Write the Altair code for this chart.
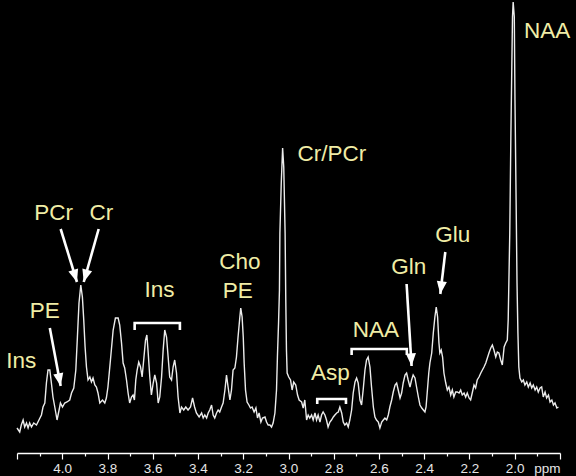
import altair as alt
import pandas as pd

# ---- spectrum (chemical shift in ppm, intensity in arbitrary units) ----
ppm = [
    4.200, 4.188, 4.181, 4.173, 4.166, 4.158, 4.151, 4.144, 4.136, 4.126,
    4.114, 4.103, 4.092, 4.085, 4.077, 4.070, 4.063, 4.055, 4.048, 4.041,
    4.033, 4.023, 4.014, 4.008, 3.999, 3.989, 3.979, 3.967, 3.959, 3.949,
    3.940, 3.933, 3.926, 3.918, 3.911, 3.905, 3.899, 3.893, 3.886, 3.878,
    3.871, 3.864, 3.856, 3.849, 3.842,
    3.834, 3.822, 3.812, 3.805, 3.798, 3.787, 3.775, 3.765, 3.753, 3.746,
    3.738, 3.731, 3.724, 3.716, 3.709, 3.702, 3.694, 3.687, 3.681, 3.675,
    3.669, 3.662, 3.654, 3.647, 3.640, 3.632, 3.626, 3.621, 3.613, 3.606,
    3.598, 3.591, 3.583, 3.576, 3.569, 3.561, 3.554, 3.547, 3.539, 3.532,
    3.525, 3.517, 3.510, 3.503, 3.495, 3.488, 3.480, 3.473, 3.463, 3.454,
    3.444, 3.433, 3.424, 3.415, 3.407, 3.395,
    3.384, 3.377, 3.370, 3.362, 3.355, 3.348, 3.340, 3.333, 3.326, 3.318,
    3.311, 3.304, 3.296, 3.289, 3.281, 3.274, 3.267, 3.259, 3.252, 3.245,
    3.237, 3.230, 3.223, 3.215, 3.211, 3.205, 3.200, 3.196, 3.190, 3.183,
    3.175, 3.168, 3.161, 3.152, 3.144, 3.137, 3.130, 3.122, 3.115, 3.104,
    3.097, 3.090, 3.082, 3.075, 3.068, 3.060, 3.053, 3.049, 3.044, 3.040,
    3.038, 3.032, 3.026, 3.021, 3.015, 3.012, 3.009, 3.006, 2.999, 2.991,
    2.984, 2.977, 2.968, 2.960, 2.953,
    2.942, 2.935, 2.928, 2.920, 2.913, 2.906, 2.898, 2.891, 2.883, 2.876,
    2.869, 2.861, 2.854, 2.847, 2.839, 2.832, 2.825, 2.817, 2.810, 2.802,
    2.795, 2.787, 2.780, 2.773, 2.765, 2.758, 2.751, 2.743, 2.736, 2.729,
    2.721, 2.714, 2.706, 2.699, 2.692, 2.684, 2.677, 2.670, 2.662, 2.655,
    2.648, 2.640, 2.633, 2.625, 2.618, 2.611, 2.603, 2.596, 2.588, 2.581,
    2.574, 2.566, 2.559, 2.552, 2.544, 2.537, 2.529, 2.522, 2.515, 2.507,
    2.500, 2.493, 2.485, 2.478, 2.471, 2.463, 2.456, 2.449, 2.441, 2.434,
    2.426, 2.419, 2.411, 2.404, 2.397, 2.392, 2.387, 2.380, 2.375, 2.367,
    2.360, 2.353, 2.347, 2.341, 2.335, 2.331, 2.325, 2.319, 2.313, 2.305,
    2.298, 2.291, 2.283, 2.276, 2.269, 2.261, 2.254, 2.246, 2.239, 2.232,
    2.224, 2.217, 2.210, 2.202, 2.195, 2.188, 2.180, 2.173, 2.166, 2.158,
    2.150, 2.143, 2.136, 2.128, 2.121, 2.114, 2.106, 2.099, 2.092, 2.084,
    2.077, 2.070, 2.062, 2.055, 2.047, 2.040, 2.033, 2.029, 2.025, 2.022,
    2.017, 2.013, 2.010, 2.007, 2.002, 1.999, 1.994, 1.990, 1.986, 1.982,
    1.977, 1.969, 1.962, 1.955, 1.947, 1.940, 1.932, 1.925, 1.918, 1.910,
    1.903, 1.896, 1.888, 1.881, 1.874, 1.866, 1.859, 1.851, 1.844, 1.836,
    1.829, 1.822, 1.814, 1.807,
]
intensity = [
    25, 21, 28, 33, 26, 30, 25, 30, 26, 30,
    28, 33, 38, 46, 50, 70, 83, 83, 70, 56,
    46, 33, 43, 50, 46, 50, 51, 53, 60, 65,
    83, 116, 150, 168, 156, 133, 106, 86, 73, 76,
    71, 75, 68, 66, 60,
    50, 53, 50, 55, 66, 93, 123, 135, 135, 128,
    110, 90, 85, 73, 60, 50, 56, 58, 53, 73,
    83, 91, 86, 76, 93, 113, 118, 103, 76, 58,
    70, 78, 70, 50, 56, 76, 103, 123, 116, 96,
    76, 73, 86, 93, 80, 56, 40, 46, 43, 46,
    43, 46, 55, 46, 40, 36,
    40, 35, 38, 35, 40, 43, 48, 38, 35, 40,
    43, 41, 46, 50, 63, 78, 66, 53, 63, 83,
    85, 96, 116, 136, 145, 136, 116, 90, 63, 51,
    48, 45, 46, 41, 45, 35, 40, 31, 35, 36,
    31, 28, 28, 26, 30, 40, 63, 96, 130, 163,
    220, 270, 305, 286, 220, 153, 103, 80, 76, 73,
    63, 71, 68, 58, 53,
    51, 45, 53, 33, 38, 35, 38, 33, 40, 33,
    38, 31, 38, 41, 38, 33, 26, 31, 33, 36,
    38, 40, 41, 46, 40, 31, 28, 30, 26, 33,
    43, 60, 71, 75, 70, 53, 48, 63, 83, 93,
    96, 86, 66, 46, 36, 33, 31, 25, 31, 33,
    35, 33, 38, 46, 53, 61, 68, 70, 63, 55,
    60, 70, 78, 80, 73, 66, 73, 78, 75, 66,
    56, 48, 45, 43, 41, 46, 60, 80, 90, 100,
    120, 136, 146, 136, 110, 100, 103, 96, 80, 70,
    63, 66, 58, 63, 56, 61, 61, 60, 63, 58,
    60, 56, 60, 55, 53, 60, 68, 65, 73, 76,
    80, 83, 86, 90, 95, 100, 105, 108, 103, 96,
    101, 100, 93, 88, 106, 110, 113, 133, 183, 220,
    320, 386, 436, 451, 436, 353, 253, 170, 120, 86,
    75, 71, 73, 68, 71, 66, 70, 65, 68, 63,
    66, 61, 65, 66, 56, 61, 55, 58, 51, 53,
    48, 50, 45, 46,
]

# ---- axis ticks ----
tick_values = [round(4.2 - 0.1 * i, 1) for i in range(25)]

# ---- text labels ----
txt_labels = ["NAA", "Cr/PCr", "Cho", "PE", "Asp", "NAA", "Gln", "Glu",
              "PCr", "Cr", "PE", "Ins", "Ins"]
txt_ppm = [1.857, 2.808, 3.215, 3.224, 2.815, 2.614, 2.468, 2.274,
           4.038, 3.827, 4.077, 4.181, 3.570]
txt_int = [415, 292, 184, 155, 73, 116, 179, 211, 233, 233, 135, 85, 156]

# ---- brackets ----
br_names = ["Ins", "Asp", "NAA"]
br_left = [3.680, 2.873, 2.721]
br_right = [3.480, 2.746, 2.477]
br_top = [130, 54, 104]
br_bottom = [123, 49, 98]

# ---- arrows ----
ar_names = ["PCr", "Cr", "PE", "Gln", "Glu"]
ar_start_ppm = [4.007, 3.839, 4.055, 2.478, 2.307]
ar_start_int = [224, 224, 125, 169, 201]
ar_tip_ppm = [3.935, 3.905, 4.007, 2.456, 2.329]
ar_tip_int = [171, 171, 67, 87, 159]
ar_angle = [163, 196, 169, 177, 187]

spec = pd.DataFrame({"ppm": ppm, "I": intensity, "idx": list(range(len(ppm)))})
texts = pd.DataFrame({"ppm": txt_ppm, "I": txt_int, "label": txt_labels})

br_rows = []
for n, l, r, t, b in zip(br_names, br_left, br_right, br_top, br_bottom):
    br_rows += [
        {"name": n, "seq": 0, "ppm": l, "I": b},
        {"name": n, "seq": 1, "ppm": l, "I": t},
        {"name": n, "seq": 2, "ppm": r, "I": t},
        {"name": n, "seq": 3, "ppm": r, "I": b},
    ]
brackets = pd.DataFrame(br_rows)

ar_rows = []
for n, sp, si, tp, ti in zip(ar_names, ar_start_ppm, ar_start_int, ar_tip_ppm, ar_tip_int):
    ar_rows += [
        {"name": n, "seq": 0, "ppm": sp, "I": si},
        {"name": n, "seq": 1, "ppm": tp, "I": ti},
    ]
arrows = pd.DataFrame(ar_rows)
heads = pd.DataFrame({"name": ar_names, "ppm": ar_tip_ppm, "I": ar_tip_int, "angle": ar_angle})

label_expr = ("datum.value > 4.15 ? '' : (round(datum.value*10) % 2 != 0 ? '' : "
              "(datum.value < 1.85 ? 'ppm' : format(datum.value, '.1f')))")

x_enc = alt.X(
    "ppm:Q",
    scale=alt.Scale(domain=[1.8, 4.2], reverse=True, nice=False, zero=False),
    axis=alt.Axis(
        values=tick_values,
        labelExpr=label_expr,
        title=None,
        grid=False,
        domainColor="white",
        domainWidth=1.5,
        tickColor="white",
        tickWidth=1.2,
        tickSize={"condition": {"test": "round(datum.value*10) % 2 == 0", "value": 6}, "value": 3},
        labelAlign={"condition": {"test": "datum.value < 1.85", "value": "right"}, "value": "center"},
        labelColor="#e6e6e6",
        labelFont="Liberation Sans",
        labelFontSize=13.5,
        labelPadding=2,
        labelOverlap=False,
        labelFlush=False,
    ),
)
y_enc = alt.Y("I:Q", scale=alt.Scale(domain=[0, 451], nice=False, zero=False), axis=None)

line = alt.Chart(spec).mark_line(color="#ececec", strokeWidth=1.4).encode(
    x=x_enc, y=y_enc, order="idx:Q"
)
bracket_layer = alt.Chart(brackets).mark_line(
    color="white", strokeWidth=2.6, strokeJoin="miter", strokeCap="butt"
).encode(x=x_enc, y=y_enc, detail="name:N", order="seq:Q")
arrow_layer = alt.Chart(arrows).mark_line(
    color="white", strokeWidth=2.6, strokeCap="butt"
).encode(x=x_enc, y=y_enc, detail="name:N", order="seq:Q")
head_layer = alt.Chart(heads).mark_point(
    shape="M0,0L0.8,2L-0.8,2Z", filled=True, size=160, color="white", opacity=1, strokeWidth=0
).encode(x=x_enc, y=y_enc, angle=alt.Angle("angle:Q", scale=None))
text_layer = alt.Chart(texts).mark_text(
    font="Liberation Sans", fontSize=22.5, color="#f0eda6", baseline="alphabetic", align="center"
).encode(x=x_enc, y=y_enc, text="label:N")

chart = alt.layer(line, bracket_layer, arrow_layer, head_layer, text_layer).properties(
    width=543,
    height=451,
    background="black",
    padding={"left": 17, "top": 2, "right": 16, "bottom": 23},
    autosize=alt.AutoSizeParams(type="none"),
).configure_view(stroke=None)

chart.save("out.html", embed_options={"renderer": "svg", "actions": False})
